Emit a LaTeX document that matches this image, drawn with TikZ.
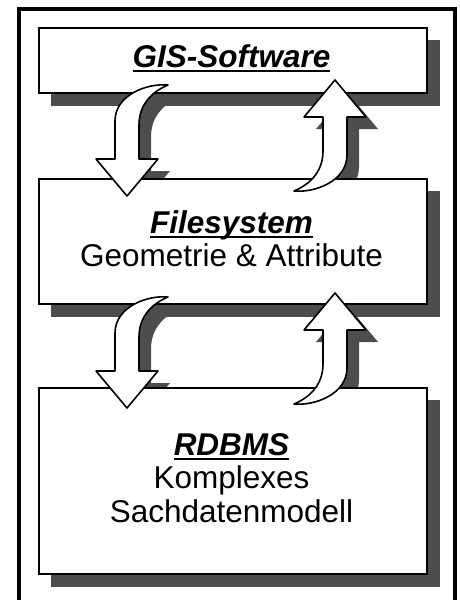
\documentclass[tikz,border=0pt]{standalone}
\usepackage{fontspec}
\setmainfont{Liberation Sans}
\usetikzlibrary{calc}
\definecolor{shadowgrey}{RGB}{77,77,77}
% underline drawn through descenders, close to the baseline
\newcommand\ulin[1]{\setbox0=\hbox{#1}\rlap{\rule[-4.8pt]{\wd0}{2.2pt}}\box0}
\tikzset{
  layerbox/.style={draw=black, fill=white, line width=2pt, inner sep=0pt, anchor=north west},
  lbl/.style={inner sep=0pt, anchor=base, font=\fontsize{31.5}{33.5}\selectfont},
  title/.style={lbl, font=\fontsize{31.5}{33.5}\selectfont\bfseries\itshape},
  % curved block arrow: tail at the origin side, head pointing down
  bend arrow/.pic={
    \path[pic actions] (41,0) .. controls (20,-2) and (-12,10) .. (-12,36)
      -- (-12,74) -- (-31,74) -- (0,111) -- (31,74) -- (12,74) -- (12,40)
      .. controls (12,22) and (22,8) .. (41,0) -- cycle;
  },
  arrowbody/.style={draw=black, fill=white, line width=1.6pt, line join=round},
  arrowshade/.style={fill=shadowgrey},
}
\begin{document}
\begin{tikzpicture}[x=1pt, y=-1pt]
\useasboundingbox (0,0) rectangle (459,600);

% outer frame
\draw[line width=4pt] (19,9) rectangle (454.5,640);

% layer boxes (positions only, drawn below)
\path (38.5,28) node[layerbox, minimum width=386pt, minimum height=62.5pt, draw=none, fill=none] (gis) {};
\path (38.5,178.5) node[layerbox, minimum width=386pt, minimum height=123.5pt, draw=none, fill=none] (fs) {};
\path (38.5,388) node[layerbox, minimum width=386pt, minimum height=184pt, draw=none, fill=none] (rdb) {};

% arrow anchor points
\coordinate (d1) at ($(gis.south west)+(88.5,-7.5)$);
\coordinate (u1) at ($(fs.north west)+(296.5,12.5)$);
\coordinate (d2) at ($(fs.south west)+(88.5,-7)$);
\coordinate (u2) at ($(rdb.north west)+(296.5,16)$);

% arrow shadows
\pic[arrowshade] at ($(d1)+(12,12)$) {bend arrow};
\pic[arrowshade, rotate=180] at ($(u1)+(12,12)$) {bend arrow};
\pic[arrowshade] at ($(d2)+(12,12)$) {bend arrow};
\pic[arrowshade, rotate=180] at ($(u2)+(12,12)$) {bend arrow};

% box shadows and boxes
\foreach \b in {gis, fs, rdb} {
  \fill[shadowgrey] ($(\b.north west)+(12,12)$) rectangle ($(\b.south east)+(13,13)$);
  \draw[fill=white, line width=2pt] (\b.north west) rectangle (\b.south east);
}

% arrows
\pic[arrowbody] at (d1) {bend arrow};
\pic[arrowbody, rotate=180] at (u1) {bend arrow};
\pic[arrowbody] at (d2) {bend arrow};
\pic[arrowbody, rotate=180] at (u2) {bend arrow};

% labels
\node[title] (t1) at (231.5,67) {\ulin{GIS-Software}};
\node[title] (t2) at (231.5,233) {\ulin{Filesystem}};
\node[lbl] (t3) at (231.5,266) {Geometrie \& Attribute};
\node[title] (t4) at (231.5,455) {\ulin{RDBMS}};
\node[lbl] (t5) at (231.5,488) {Komplexes};
\node[lbl] (t6) at (231.5,522) {Sachdatenmodell};
\end{tikzpicture}
\end{document}
